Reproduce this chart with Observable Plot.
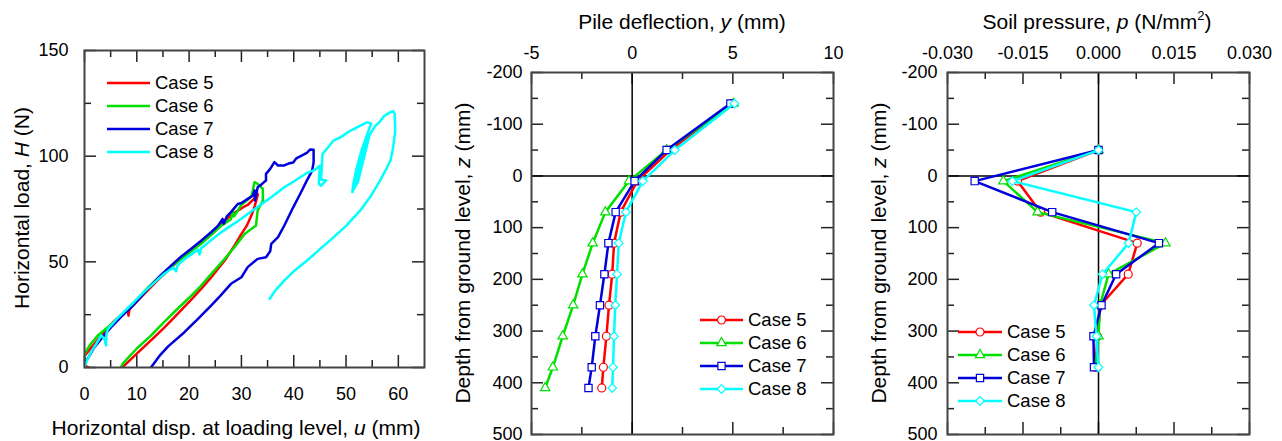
<!DOCTYPE html>
<html><head><meta charset="utf-8">
<script src="https://cdn.jsdelivr.net/npm/d3@7"></script>
<script src="https://cdn.jsdelivr.net/npm/@observablehq/plot@0.6"></script>
<style>
body{margin:0;background:#fff;font-family:"Liberation Sans",Arial,sans-serif;}
#wrap{position:relative;width:1282px;height:441px;overflow:hidden;background:#fff;}
.panel{position:absolute;top:0;}
.t{position:absolute;font-size:21px;line-height:24px;white-space:nowrap;color:#000;transform:translate(-50%,-50%);}
.ty{position:absolute;font-size:21px;line-height:24px;white-space:nowrap;color:#000;transform:translate(-50%,-50%) rotate(-90deg);}
sup{font-size:13px;vertical-align:9px;line-height:0;}
#legend{position:absolute;left:0;top:0;pointer-events:none;}
</style></head>
<body>
<div id="wrap">
  <div class="panel" id="p1" style="left:0"></div>
  <div class="panel" id="p2" style="left:440px"></div>
  <div class="panel" id="p3" style="left:870px"></div>
  <div class="t" style="left:236px;top:428px">Horizontal disp. at loading level, <i>u</i> (mm)</div>
  <div class="ty" style="left:22px;top:208px">Horizontal load, <i>H</i> (N)</div>
  <div class="t" style="left:682px;top:22px">Pile deflection, <i>y</i> (mm)</div>
  <div class="ty" style="left:463px;top:253px">Depth from ground level, <i>z</i> (mm)</div>
  <div class="t" style="left:1097px;top:22px">Soil pressure, <i>p</i> (N/mm<sup>2</sup>)</div>
  <div class="ty" style="left:879px;top:253px">Depth from ground level, <i>z</i> (mm)</div>
</div>
<script>
// ---------- data ----------
const caseNames = ["Case 5", "Case 6", "Case 7", "Case 8"];
const caseColors = ["#ff0000", "#00e000", "#0000dd", "#00ffff"];
const caseSymbols = ["circle", "triangle", "square", "diamond2"];
const caseSymbolR = [4, 3.5, 4.1, 3.9];

// Panel 1: load-displacement curves [u (mm), H (N)]
const loadCase5 = [[0.8,0],[0.3,0.5],[0,3],[0,5.5],[1.5,10],[3.8,17],[5.5,21.5],[7.6,26],[8.3,27.5],[8.4,24.5],[8.6,27.5],[10.5,32.5],[12.7,38],[14.5,42.5],[16.6,47.3],[18.5,51.8],[20.4,55.6],[22.3,59.2],[24.2,62.8],[25.5,65.8],[26.8,69.5],[28.7,73.3],[30.6,76.2],[31.2,76.9],[32.5,80],[33.1,82.2],[33.1,81.4],[32.5,76],[31.9,71.9],[31,67],[30,63.2],[28.5,57],[26.8,50.6],[24.5,43.5],[22.3,37.2],[20,31],[17.8,25.4],[15.3,19],[12.7,12.8],[10.2,7],[8.5,3],[7.6,0.9],[7.2,0.2]];
const loadCase6 = [[0,0],[0,6.5],[1,10.5],[2.5,15],[4.5,19.2],[6.4,23],[8.3,28],[10.2,32.7],[12,37.5],[14,42.2],[16.2,47],[18.5,51.5],[20.4,55],[22.3,58.5],[24.2,62.8],[26.1,67],[28,70.2],[28.4,73.8],[28.6,71.5],[30,77],[31.9,80.8],[32.2,84],[32.5,87.7],[33.1,86.9],[34.1,84.5],[34.1,79],[33.1,74.3],[32.8,67.2],[30.6,63.2],[28.7,57],[26.8,51.4],[24.5,45],[22.3,38.8],[20,33],[17.8,27.8],[15.2,21.5],[12.7,15.1],[10,9],[8.5,5],[7.3,1.7],[7,0.3]];
const loadCase7 = [[0,0],[0,1.7],[0.8,5],[1.9,9.6],[3.5,14.5],[5.1,19.1],[7,24],[8.9,28.5],[10.8,33.5],[12.7,38.8],[14.5,43.5],[16.6,48.3],[18.5,52.5],[20.4,56.2],[22.3,60],[24.2,64],[25.5,67],[26.4,70.3],[26.6,68],[27.2,71.5],[28,73.5],[29.3,77.4],[30,77.8],[31.2,79.8],[32.2,81.4],[32.5,83.8],[32.6,79],[33.1,85.3],[34,87],[34.7,88.5],[34.7,91.6],[35.5,94],[36.3,97.2],[37,95.6],[38.2,95.6],[39,96.5],[39.9,97],[40.5,99],[41.5,100.3],[42.5,101.5],[43.1,103.1],[43.8,103],[43.8,97],[43.5,93],[42.5,88.4],[41.2,82],[39.9,75.8],[38.2,67.2],[37,61.7],[35.7,58.5],[35.5,55],[34.7,52.2],[33.1,51.4],[31.2,47.5],[30,42.7],[28,39.6],[26,34],[24.2,29.3],[21.5,22.5],[19.1,16.7],[16,10],[14.5,6],[12.7,0]];
const loadCase8 = [[0,0],[0.5,3.5],[1.3,7.5],[2.2,11],[3.2,15.2],[3.8,13.5],[4.1,10.4],[4.2,16],[4.5,18.3],[6,22.5],[7.6,26.5],[9.5,31],[11.5,36],[13.5,40.5],[15.3,44.5],[17,47.3],[17.5,45.5],[17.8,48.3],[19.1,51.3],[20.5,53.6],[21.7,55.8],[22,53.5],[22.3,56.4],[24,59.8],[25.5,62.8],[27.5,66.3],[29.3,69.2],[31,72.3],[33.1,76],[35.7,80.6],[38.2,85.3],[40,88],[42.5,92],[44,93.5],[45,95.5],[44.8,87],[45.2,86],[46.2,88.5],[45.2,89],[45.3,92],[45.5,101],[46.5,104],[47.6,107.4],[49,109],[50.8,112],[52,113.5],[54,116],[54.8,115.5],[54,110],[53,103],[52,94],[51.4,87],[51.2,83],[51.8,86],[52.5,95],[53.5,105],[54.2,111],[53.5,104],[52.5,94],[51.6,85],[52.3,88],[53.3,98],[54.5,110],[55.5,114],[56.5,116.5],[57.3,119],[58.2,120.5],[59,121.3],[59.3,120],[59.4,112],[59,104],[58.5,98],[57.5,93],[56.5,88.4],[54.7,81],[52.7,74.2],[50,67],[47.6,61.6],[45,56],[42.5,50.5],[40,45.5],[38.2,41.2],[36.5,36.5],[35.4,32.5]];
const loadCurves = [loadCase5, loadCase6, loadCase7, loadCase8];

// Panel 2: pile deflection y (mm) at depth z (mm)
const deflDepth = [-140, -50, 10, 70, 130, 190, 250, 310, 370, 410];
const deflCase5 = [4.96, 1.9, 0.25, -0.57, -0.9, -0.99, -1.15, -1.28, -1.43, -1.51];
const deflCase6 = [5.04, 1.71, -0.16, -1.33, -1.96, -2.47, -2.93, -3.45, -3.94, -4.32];
const deflCase7 = [4.88, 1.71, 0.12, -0.82, -1.18, -1.38, -1.6, -1.83, -2.01, -2.17];
const deflCase8 = [5.08, 2.12, 0.53, -0.31, -0.67, -0.75, -0.84, -0.9, -0.95, -0.99];
const deflSeries = [deflCase5, deflCase6, deflCase7, deflCase8];

// Panel 3: soil pressure p (N/mm2) at depth z (mm)
const presDepth = [-50, 10, 70, 130, 190, 250, 310, 370];
const presCase5 = [0, -0.0161, -0.0115, 0.0077, 0.0059, 0.0004, -0.0002, -0.0006];
const presCase6 = [0, -0.0189, -0.0121, 0.0133, 0.002, 0.0003, 0.0, -0.0006];
const presCase7 = [0, -0.0246, -0.0092, 0.012, 0.0035, 0.0006, -0.001, -0.0009];
const presCase8 = [0, -0.0171, 0.0075, 0.006, 0.0008, -0.0009, -0.0004, 0.0];
const presSeries = [presCase5, presCase6, presCase7, presCase8];

// Tick values
const uMajor = [0, 10, 20, 30, 40, 50, 60];
const uMinor = [5, 15, 25, 35, 45, 55];
const hMajor = [0, 50, 100, 150];
const hMinor = [25, 75, 125];
const yMajor = [-5, 0, 5, 10];
const yMinor = [-2.5, 2.5, 7.5];
const zMajor = [-200, -100, 0, 100, 200, 300, 400, 500];
const zMinor = [-150, -50, 50, 150, 250, 350, 450];
const pMajor = [-0.03, -0.015, 0, 0.015, 0.03];
const pMinor = [-0.0225, -0.0075, 0.0075, 0.0225];

// ---------- helpers ----------
const FONT = "Liberation Sans, Arial, sans-serif";
const TICK = "#222";
function innerTicks(xs, ys, innerW, innerH, len) {
  return [
    Plot.tickX(xs, {x: d => d, insetTop: innerH - len, stroke: TICK, strokeWidth: 1.5}),
    Plot.tickX(xs, {x: d => d, insetBottom: innerH - len, stroke: TICK, strokeWidth: 1.5}),
    Plot.tickY(ys, {y: d => d, insetRight: innerW - len, stroke: TICK, strokeWidth: 1.5}),
    Plot.tickY(ys, {y: d => d, insetLeft: innerW - len, stroke: TICK, strokeWidth: 1.5})
  ];
}

// ---------- Panel 1 ----------
{
  const W = 430, H = 441, mL = 84, mR = 6, mT = 50, mB = 74;
  const iW = W - mL - mR, iH = H - mT - mB;
  const marks = [
    Plot.axisX({ticks: uMajor, tickSize: 0, tickPadding: 20, anchor: "bottom", label: null, fontSize: 18, tickFormat: d => String(d)}),
    Plot.axisY({ticks: hMajor, tickSize: 0, tickPadding: 16, anchor: "left", label: null, fontSize: 18, tickFormat: d => String(d)}),
    ...innerTicks(uMajor, hMajor, iW, iH, 12),
    ...innerTicks(uMinor, hMinor, iW, iH, 7),
    ...loadCurves.map((c, i) => Plot.line(c, {x: d => d[0], y: d => d[1], stroke: caseColors[i], strokeWidth: 2.5, clip: true})),
    Plot.frame({stroke: "#444", strokeWidth: 2})
  ];
  document.getElementById("p1").append(Plot.plot({
    width: W, height: H, marginLeft: mL, marginRight: mR, marginTop: mT, marginBottom: mB,
    style: {fontFamily: FONT, fontSize: "18px", background: "transparent", color: "#000"},
    x: {domain: [0, 65]}, y: {domain: [0, 150]},
    marks
  }));
}

// ---------- Panels 2 and 3 ----------
function profilePanel(el, W, mL, mR, xDomain, xMajor, xMinor, xFmt, yPad, depth, series) {
  const H = 441, mT = 72, mB = 7;
  const iW = W - mL - mR, iH = H - mT - mB;
  const marks = [
    Plot.axisX({ticks: xMajor, tickSize: 0, tickPadding: 14, anchor: "top", label: null, fontSize: 18, tickFormat: xFmt}),
    Plot.axisY({ticks: zMajor, tickSize: 0, tickPadding: yPad, anchor: "left", label: null, fontSize: 18, tickFormat: d => String(d)}),
    ...innerTicks(xMajor, zMajor, iW, iH, 12),
    ...innerTicks(xMinor, zMinor, iW, iH, 7),
    Plot.ruleX([0], {stroke: "#000", strokeWidth: 1.5}),
    Plot.ruleY([0], {stroke: "#000", strokeWidth: 1.5})
  ];
  series.forEach((vals, i) => {
    const rows = vals.map((v, k) => ({v, z: depth[k]}));
    marks.push(Plot.line(rows, {x: "v", y: "z", stroke: caseColors[i], strokeWidth: 2.5}));
    marks.push(Plot.dot(rows, {x: "v", y: "z", symbol: caseSymbols[i], r: caseSymbolR[i], fill: "#fff", stroke: caseColors[i], strokeWidth: 1.2}));
  });
  marks.push(Plot.frame({stroke: "#444", strokeWidth: 2}));
  document.getElementById(el).append(Plot.plot({
    width: W, height: H, marginLeft: mL, marginRight: mR, marginTop: mT, marginBottom: mB,
    style: {fontFamily: FONT, fontSize: "18px", background: "transparent", color: "#000"},
    x: {domain: xDomain}, y: {domain: [-200, 500], reverse: true},
    symbol: {type: "identity"},
    marks
  }));
}
profilePanel("p2", 420, 91, 27, [-5, 10], yMajor, yMinor, d => String(d), 9, deflDepth, deflSeries);
profilePanel("p3", 412, 77, 33, [-0.03, 0.03], pMajor, pMinor, d => d.toFixed(3), 10, presDepth, presSeries);

// ---------- Legends ----------
const svg = d3.select("#wrap").append("svg").attr("id", "legend").attr("width", 1282).attr("height", 441);
const symbolMap = {circle: d3.symbolCircle, triangle: d3.symbolTriangle, square: d3.symbolSquare, diamond2: d3.symbolDiamond2};
function legend(x0, x1, tx, y0, dy, withMarkers) {
  caseNames.forEach((name, i) => {
    const y = y0 + i * dy;
    svg.append("line").attr("x1", x0).attr("x2", x1).attr("y1", y).attr("y2", y)
      .attr("stroke", caseColors[i]).attr("stroke-width", 2.5);
    if (withMarkers) {
      svg.append("path").attr("d", d3.symbol(symbolMap[caseSymbols[i]], Math.PI * caseSymbolR[i] ** 2)())
        .attr("transform", `translate(${(x0 + x1) / 2},${y})`)
        .attr("fill", "#fff").attr("stroke", caseColors[i]).attr("stroke-width", 1.2);
    }
    svg.append("text").attr("x", tx).attr("y", y).attr("dy", "0.35em")
      .attr("font-family", FONT).attr("font-size", 18.5).attr("fill", "#000").text(name);
  });
}
legend(107, 150, 155, 83, 23, false);
legend(700, 743, 748, 320, 23, true);
legend(958, 1002, 1007, 332, 23, true);
</script>
</body></html>
